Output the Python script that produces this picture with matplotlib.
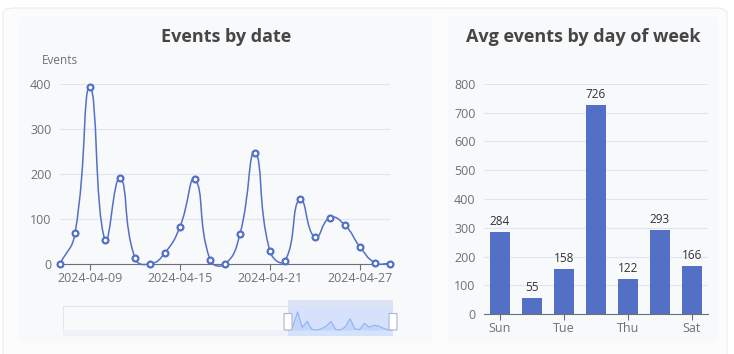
import datetime as dt

import matplotlib
matplotlib.use("Agg")
import matplotlib.dates as mdates
import matplotlib.pyplot as plt
import numpy as np
from matplotlib.patches import FancyBboxPatch, Rectangle
from matplotlib.path import Path
from matplotlib.patches import PathPatch

plt.rcParams["font.family"] = ["Open Sans", "DejaVu Sans"]

# data
start_date = dt.date(2024, 4, 7)
daily_events = [0, 68, 393, 53, 191, 13, 0, 25, 83, 188, 10, 0,
                67, 247, 28, 7, 145, 59, 103, 86, 38, 3, 1]
dates = [start_date + dt.timedelta(days=i) for i in range(len(daily_events))]

weekdays = ["Sun", "Mon", "Tue", "Wed", "Thu", "Fri", "Sat"]
weekday_avg = [284, 55, 158, 726, 122, 293, 166]

BLUE = "#5470c6"
GRID = "#e0e6f1"
AXIS = "#6e7079"
TEXT = "#464646"

W, H = 734, 354
fig = plt.figure(figsize=(W / 100, H / 100), dpi=100)
fig.patch.set_facecolor("white")


def fx(px):
    return px / W


def fy(py):
    return 1 - py / H


def card(x0, y0, x1, y1, face, edge="none", shadow=True, r=8):
    if shadow:
        for k, a in [(4, 0.025), (2, 0.035), (1, 0.045)]:
            fig.patches.append(FancyBboxPatch(
                (fx(x0 - k), fy(y1 + k + 1)), fx(x1 - x0 + 2 * k), (y1 - y0 + 2 * k) / H,
                boxstyle=f"round,pad=0,rounding_size={r / W}", transform=fig.transFigure,
                facecolor="black", alpha=a, edgecolor="none", zorder=-3))
    fig.patches.append(FancyBboxPatch(
        (fx(x0), fy(y1)), fx(x1 - x0), (y1 - y0) / H,
        boxstyle=f"round,pad=0,rounding_size={r / W}", transform=fig.transFigure,
        facecolor=face, edgecolor=edge, linewidth=0.8, zorder=-2))


# outer container and cards
card(3, 8, 727, 380, "#fcfcfd", edge="#ececf0", shadow=False, r=12)
card(19, 16, 432, 343, "#f8f9fb")
card(448, 16, 718, 343, "#f8f9fb")

# ---------- left: events by date ----------
ax = fig.add_axes([fx(60), fy(264), fx(330), 180 / H])
ax.set_facecolor("none")
x = mdates.date2num(dates)
y = np.array(daily_events, dtype=float)
ax.set_xlim(x[0], x[-1])
ax.set_ylim(0, 400)

# smooth bezier line like echarts (smooth = 0.5), computed in display space
pts = ax.transData.transform(np.column_stack([x, y]))
smooth = 0.5
cps = []
for i in range(len(pts)):
    p = pts[i]
    prev = pts[i - 1] if i > 0 else p
    nxt = pts[i + 1] if i < len(pts) - 1 else p
    v = (nxt - prev) * smooth
    d0 = np.hypot(*(p - prev))
    d1 = np.hypot(*(p - nxt))
    s = d0 + d1
    if s:
        d0, d1 = d0 / s, d1 / s
    cps.append((p - v * d0, p + v * d1))
verts = [pts[0]]
codes = [Path.MOVETO]
for i in range(len(pts) - 1):
    verts += [cps[i][1], cps[i + 1][0], pts[i + 1]]
    codes += [Path.CURVE4] * 3
verts = ax.transData.inverted().transform(np.array(verts))
ax.add_patch(PathPatch(Path(verts, codes), facecolor="none", edgecolor=BLUE,
                       linewidth=1.1, zorder=3, clip_on=False))
ax.plot(x, y, linestyle="none", marker="o", markersize=4.2, markerfacecolor="white",
        markeredgecolor=BLUE, markeredgewidth=1.6, zorder=4, clip_on=False)

ax.set_yticks([0, 100, 200, 300, 400])
ax.grid(axis="y", color=GRID, linewidth=0.8)
ax.set_axisbelow(True)
ax.xaxis.set_major_locator(mdates.DayLocator(bymonthday=[9, 15, 21, 27]))
ax.xaxis.set_major_formatter(mdates.DateFormatter("%Y-%m-%d"))
for s in ["top", "right", "left"]:
    ax.spines[s].set_visible(False)
ax.spines["bottom"].set_color(AXIS)
ax.tick_params(axis="y", length=0, labelsize=9, labelcolor=AXIS, pad=6)
ax.tick_params(axis="x", length=4, color=AXIS, labelsize=9, labelcolor=AXIS, pad=2)
fig.text(fx(42), fy(61), "Events", fontsize=8.5, color=AXIS, va="center", ha="left")
fig.text(fx(226), fy(37), "Events by date", fontsize=13, fontweight="bold",
         color=TEXT, ha="center", va="center")

# ---------- data zoom slider ----------
sl = fig.add_axes([fx(63), fy(336), fx(330), 30 / H])
sl.set_xlim(0, 1)
sl.set_ylim(0, 1)
sl.axis("off")
sl.add_patch(FancyBboxPatch((0, 0), 1, 1, boxstyle="round,pad=0,rounding_size=0.01",
                            facecolor="none", edgecolor="#d2dbee", linewidth=0.9))
sl.add_patch(Rectangle((0, 0), 1, 0.2, facecolor="#eef1f8", edgecolor="none"))
sel0 = (288 - 63) / 330
sl.add_patch(Rectangle((sel0, 0), 1 - sel0, 1, facecolor="#d6e2fb", edgecolor="none"))
sl.add_patch(Rectangle((sel0, 1.0), 1 - sel0, 0.2, facecolor="#dde3f1", edgecolor="none",
                       clip_on=False))
mini_x = sel0 + (1 - sel0) * (x - x[0]) / (x[-1] - x[0])
mini_y = 0.2 + 0.6 * y / y.max()
sl.fill_between(mini_x, 0.2, mini_y, color="#b9cdf8", alpha=0.6, linewidth=0)
sl.plot(mini_x, mini_y, color="#8fb0f7", linewidth=0.8)
for hx in [sel0, 1.0]:
    sl.add_patch(FancyBboxPatch((hx - 0.012, 0.2), 0.024, 0.55,
                                boxstyle="round,pad=0,rounding_size=0.005",
                                facecolor="white", edgecolor="#aab6d0", linewidth=0.8,
                                zorder=5, clip_on=False))

# ---------- right: avg events by day of week ----------
bx = fig.add_axes([fx(484), fy(314), fx(224), 230 / H])
bx.set_facecolor("none")
pos = np.arange(len(weekdays))
bars = bx.bar(pos, weekday_avg, width=0.6, color=BLUE, zorder=3)
for p, v in zip(pos, weekday_avg):
    bx.text(p, v + 14, str(v), ha="center", va="bottom", fontsize=8.5, color="#333333")
bx.set_xlim(-0.5, len(weekdays) - 0.5)
bx.set_ylim(0, 800)
bx.set_yticks(range(0, 900, 100))
bx.set_xticks(pos[::2])
bx.set_xticklabels(weekdays[::2])
bx.grid(axis="y", color=GRID, linewidth=0.8)
bx.set_axisbelow(True)
for s in ["top", "right", "left"]:
    bx.spines[s].set_visible(False)
bx.spines["bottom"].set_color(AXIS)
bx.tick_params(axis="y", length=0, labelsize=9, labelcolor=AXIS, pad=6)
bx.tick_params(axis="x", length=4, color=AXIS, labelsize=9, labelcolor=AXIS, pad=2)
fig.text(fx(583), fy(37), "Avg events by day of week", fontsize=13, fontweight="bold",
         color=TEXT, ha="center", va="center")

fig.savefig("out.png", dpi=100, facecolor=fig.get_facecolor())
